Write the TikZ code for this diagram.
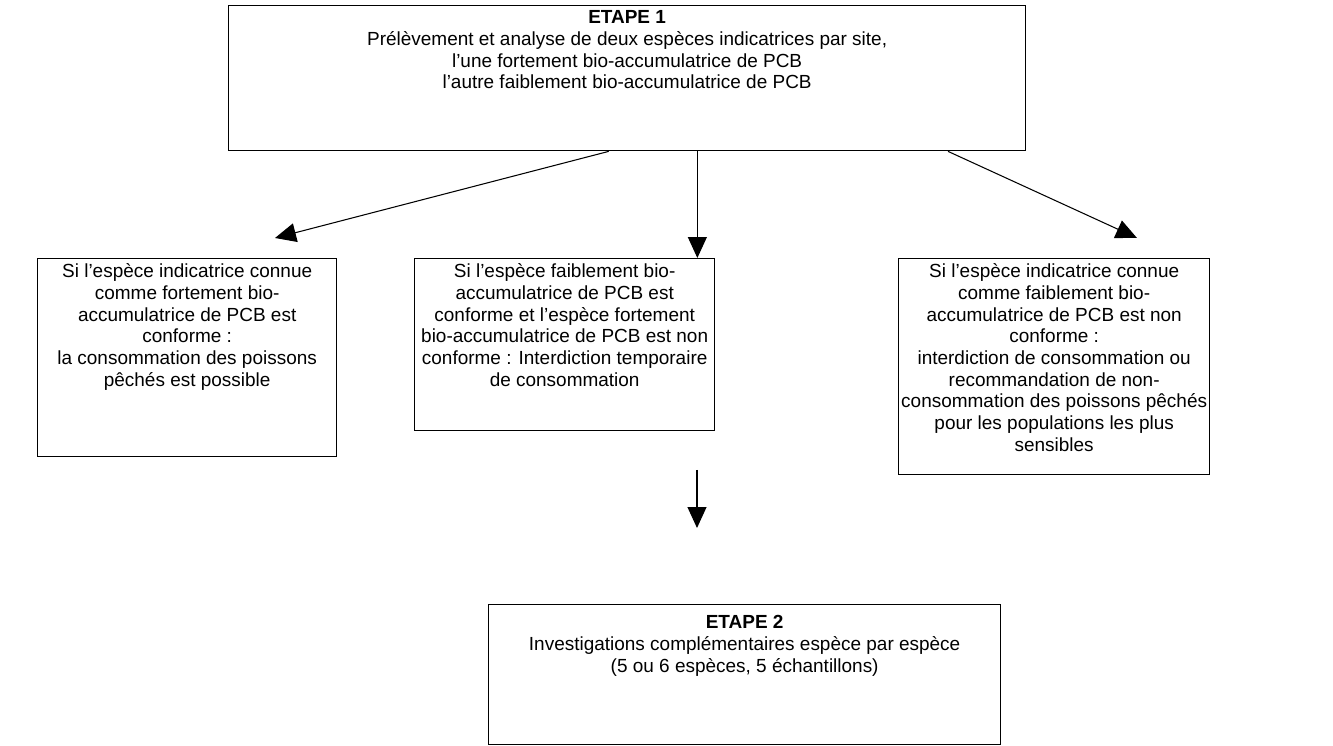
\documentclass[tikz,border=0pt]{standalone}
\usepackage{fontspec}
\setmainfont{Liberation Sans}
\usepackage{tikz}
\usetikzlibrary{arrows.meta, calc, positioning}

\tikzset{
  caisse/.style={draw, line width=0.8pt, anchor=north west, inner xsep=0.04cm, inner ysep=0.1cm},
  fleche/.style={-{Triangle[length=0.42cm, width=0.38cm]}, line width=0.6pt},
}
% boite de texte alignee en haut : largeur, hauteur, contenu
\newcommand{\texteboite}[3]{\parbox[c][#2][t]{#1}{\centering\fontsize{10.8}{12.35}\selectfont #3}}

\begin{document}
\begin{tikzpicture}[x=0.02cm, y=-0.02cm]
    \useasboundingbox (0,0) rectangle (1333,746);

    % Etape 1
    \node[caisse] (etape1) at (228,5) {\texteboite{15.86cm}{2.7cm}{%
        \textbf{ETAPE 1}\\
        Prélèvement et analyse de deux espèces indicatrices par site,\\
        l’une fortement bio-accumulatrice de PCB\\
        l’autre faiblement bio-accumulatrice de PCB}};

    % Les trois cas
    \node[caisse] (gauche) at (37,258) {\texteboite{5.9cm}{3.76cm}{%
        Si l’espèce indicatrice connue\\
        comme fortement bio-\\
        accumulatrice de PCB est\\
        conforme :\\
        la consommation des poissons\\
        pêchés est possible}};
    \node[caisse] (centre) at (414,258) {\texteboite{5.92cm}{3.24cm}{%
        Si l’espèce faiblement bio-\\
        accumulatrice de PCB est\\
        conforme et l’espèce fortement\\
        bio-accumulatrice de PCB est non\\
        conforme : Interdiction temporaire\\
        de consommation}};
    \node[caisse] (droite) at (898,258) {\texteboite{6.14cm}{4.12cm}{%
        Si l’espèce indicatrice connue\\
        comme faiblement bio-\\
        accumulatrice de PCB est non\\
        conforme :\\
        interdiction de consommation ou\\
        recommandation de non-\\
        consommation des poissons pêchés\\
        pour les populations les plus\\
        sensibles}};

    % Etape 2
    \node[caisse] (etape2) at (488,604) {\texteboite{10.16cm}{2.6cm}{%
        \vspace*{0.12cm}
        \textbf{ETAPE 2}\\
        Investigations complémentaires espèce par espèce\\
        (5 ou 6 espèces, 5 échantillons)}};

    % Fleches
    \coordinate (pointeG) at (275,238);
    \coordinate (pointeD) at (1137,238);
    \coordinate (depart2) at (697,470);
    \coordinate (arrivee2) at (697,528);
    \draw[fleche] ($(etape1.south west)!0.477!(etape1.south east)$) -- (pointeG);
    \draw[fleche] ($(etape1.south west)!0.588!(etape1.south east)$) coordinate (milieu)
        -- (milieu |- centre.north);
    \draw[fleche] ($(etape1.south west)!0.902!(etape1.south east)$) -- (pointeD);
    \draw[fleche] (depart2) -- (arrivee2);
\end{tikzpicture}
\end{document}
